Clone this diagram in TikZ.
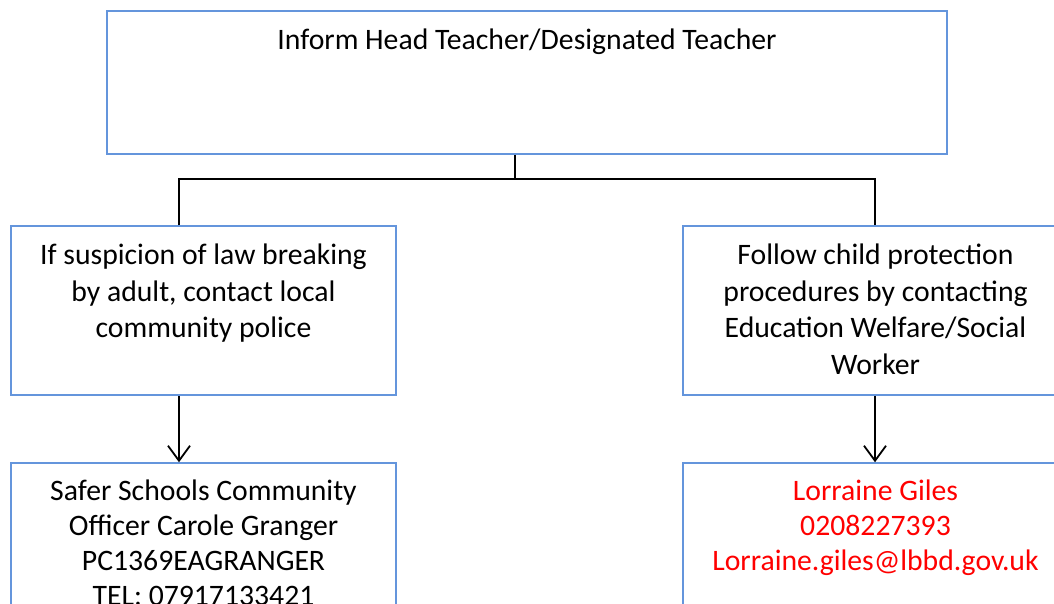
\documentclass[tikz,border=0pt]{standalone}
\usepackage{fontspec}
\setmainfont{Carlito}
\usetikzlibrary{arrows.meta}
\definecolor{boxblue}{RGB}{100,149,220}
\definecolor{txtred}{RGB}{255,0,0}
\tikzset{
  x=1pt,y=-1pt,
  box/.style={draw=boxblue,line width=1.5pt,rectangle,inner sep=0pt},
  txt/.style={align=center,inner sep=0pt,anchor=north,font=\fontsize{29.7}{36.5}\selectfont},
  txtb/.style={align=center,inner sep=0pt,anchor=north,font=\fontsize{29.7}{35}\selectfont},
  conn/.style={line width=1.8pt,black},
  arr/.style={conn,-{Straight Barb[length=15pt,width=22pt,line width=1.8pt]}}
}
\begin{document}
\begin{tikzpicture}
\useasboundingbox (0,0) rectangle (1054,603);
\clip (0,0) rectangle (1054,603);
% boxes
\node[box,minimum width=840pt,minimum height=143pt] (top) at (527,82.5) {};
\node[box,minimum width=385pt,minimum height=169pt] (l1) at (203.5,310.5) {};
\node[box,minimum width=385pt,minimum height=169pt] (r1) at (875.5,310.5) {};
\node[box,minimum width=385pt,minimum height=200pt] (l2) at (203.5,563) {};
\node[box,minimum width=385pt,minimum height=200pt] (r2) at (875.5,563) {};
% texts
\node[txt] (ttop) at ([yshift=-13.5pt]top.north) {\strut Inform Head Teacher/Designated Teacher};
\node[txt] (tl1) at ([yshift=-13.5pt]l1.north) {\strut If suspicion of law breaking\\by adult, contact local\\community police};
\node[txt] (tr1) at ([yshift=-13.5pt]r1.north) {\strut Follow child protection\\procedures by contacting\\Education Welfare/Social\\Worker};
\node[txtb] (tl2) at ([yshift=-14pt]l2.north) {\strut Safer Schools Community\\Officer Carole Granger\\PC1369EAGRANGER\\TEL: 07917133421};
\node[txtb,text=txtred] (tr2) at ([yshift=-14pt]r2.north) {\strut Lorraine Giles\\0208227393\\Lorraine.giles@lbbd.gov.uk};
% connectors
\coordinate (jM) at (515,179);
\coordinate (jL) at (179,179);
\coordinate (jR) at (875,179);
\draw[conn,line width=1.2pt] (jM |- top.south) -- (jM);
\draw[conn] (jL |- l1.north) -- (jL) -- (jR) -- (jR |- r1.north);
\draw[arr] (jL |- l1.south) -- (jL |- l2.north);
\draw[arr] (jR |- r1.south) -- (jR |- r2.north);
\end{tikzpicture}
\end{document}
